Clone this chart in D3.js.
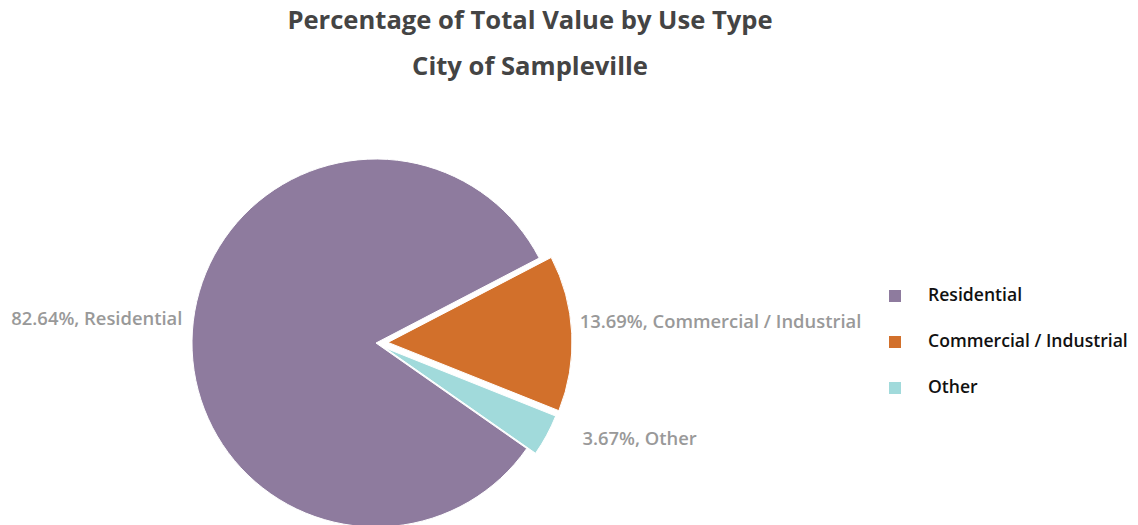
<!DOCTYPE html>
<html>
<head>
<meta charset="utf-8">
<script src="https://cdn.jsdelivr.net/npm/d3@7"></script>
<style>
html,body{margin:0;padding:0;background:#fff;}
svg{display:block;}
text{font-family:"Open Sans","Noto Sans",sans-serif;}
</style>
</head>
<body>
<svg id="chart" width="1138" height="525"></svg>
<script>
const titleLines = ["Percentage of Total Value by Use Type", "City of Sampleville"];
const categories = ["Residential", "Commercial / Industrial", "Other"];
const percents = [82.64, 13.69, 3.67];
const colors = ["#8e7b9e", "#d2702b", "#a1dadb"];
const explode = [0, 12, 10];

const W = 1138, H = 525;
const svg = d3.select("#chart");
const cx = 376, cy = 343, r = 184;

// Title
svg.selectAll("text.title").data(titleLines).join("text")
  .attr("class", "title")
  .attr("x", 530)
  .attr("y", (d, i) => 22 + i * 46)
  .attr("dominant-baseline", "middle")
  .attr("text-anchor", "middle")
  .attr("font-size", 25.6)
  .attr("font-weight", 700)
  .attr("fill", "#444")
  .text(d => d);

const data = categories.map((c, i) => ({name: c, value: percents[i], color: colors[i], off: explode[i]}));
const startA = (62.5 - 360 * percents[0] / 100) * Math.PI / 180;
const pie = d3.pie().sort(null).value(d => d.value).startAngle(startA).endAngle(startA + 2 * Math.PI);
const arcs = pie(data);
const arc = d3.arc().innerRadius(0).outerRadius(r);

const g = svg.append("g").attr("transform", `translate(${cx},${cy})`);

function offset(d) {
  const m = (d.startAngle + d.endAngle) / 2;
  return [Math.sin(m) * d.data.off, -Math.cos(m) * d.data.off];
}

g.selectAll("path").data(arcs).join("path")
  .attr("d", arc)
  .attr("fill", d => d.data.color)
  .attr("stroke", "#fff")
  .attr("stroke-width", 1)
  .attr("transform", d => { const o = offset(d); return `translate(${o[0]},${o[1]})`; });

// Labels
const labelNudge = [[0, -10], [-2, -10], [27, 0]];
g.selectAll("text.lbl").data(arcs).join("text")
  .attr("class", "lbl")
  .each(function(d, i) {
    const m = (d.startAngle + d.endAngle) / 2;
    const o = offset(d);
    const R = r + 10;
    const x = o[0] + Math.sin(m) * R + labelNudge[i][0];
    const y = o[1] - Math.cos(m) * R + labelNudge[i][1];
    d3.select(this)
      .attr("x", x).attr("y", y)
      .attr("text-anchor", Math.sin(m) < 0 ? "end" : "start")
      .attr("dominant-baseline", "middle");
  })
  .attr("font-size", 18.4)
  .attr("font-weight", 600)
  .attr("fill", "#999")
  .text(d => `${d.data.value.toFixed(2)}%, ${d.data.name}`);

// Legend
const legend = svg.append("g").attr("transform", "translate(889,296)");
const items = legend.selectAll("g").data(data).join("g")
  .attr("transform", (d, i) => `translate(0,${i * 46})`);
items.append("rect").attr("x", 0).attr("y", -6).attr("width", 12).attr("height", 12).attr("fill", d => d.color);
items.append("text").attr("x", 39).attr("y", 0).attr("dominant-baseline", "middle")
  .attr("font-size", 17.6).attr("font-weight", 600).attr("fill", "#111").text(d => d.name);
</script>
</body>
</html>
